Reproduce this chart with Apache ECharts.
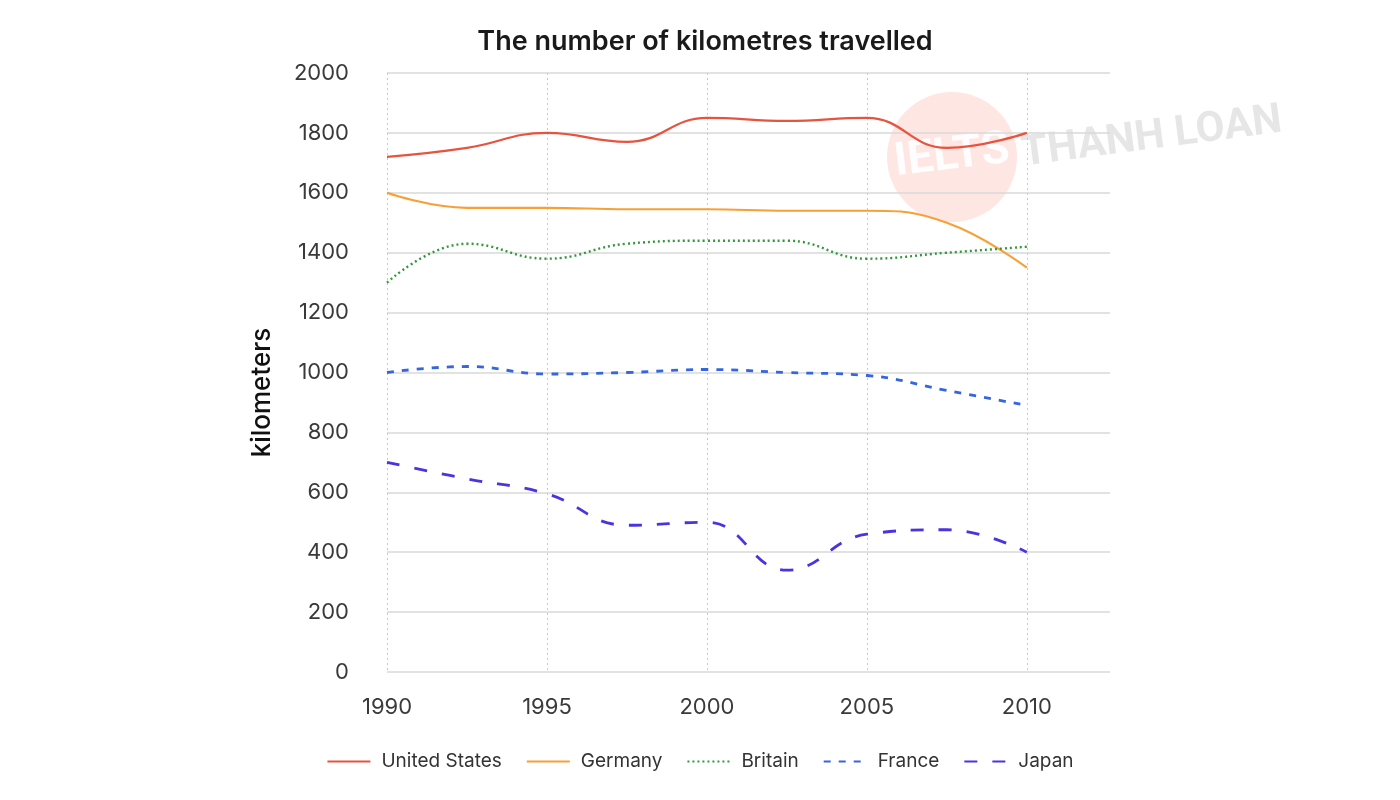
<!DOCTYPE html>
<html>
<head>
<meta charset="utf-8">
<script src="https://cdn.jsdelivr.net/npm/echarts@6/dist/echarts.min.js"></script>
<style>html,body{margin:0;padding:0;background:#fff;}#c{width:1400px;height:800px;}</style>
</head>
<body>
<div id="c"></div>
<script>
const years = [1990, 1992.5, 1995, 1997.5, 2000, 2002.5, 2005, 2007.5, 2010];
const unitedStates = [1720, 1750, 1800, 1770, 1850, 1840, 1850, 1750, 1800];
const germany = [1600, 1550, 1550, 1545, 1545, 1540, 1540, 1500, 1350];
const britain = [1300, 1430, 1380, 1430, 1440, 1440, 1380, 1400, 1420];
const france = [1000, 1020, 995, 1000, 1010, 1000, 990, 940, 890];
const japan = [700, 645, 595, 490, 500, 340, 460, 475, 400];
const xTicks = [1990, 1995, 2000, 2005, 2010];
const seriesNames = ['United States', 'Germany', 'Britain', 'France', 'Japan'];

const chart = echarts.init(document.getElementById('c'));
const pair = arr => years.map((y, i) => [y, arr[i]]);
const mk = (name, data, color, type, width) => ({
  name, type: 'line', data: pair(data), smooth: 0.45, symbol: 'none', showSymbol: false,
  lineStyle: { color, type, width }, itemStyle: { color }
});
chart.setOption({
  animation: false,
  backgroundColor: '#fff',
  title: {
    text: 'The number of kilometres travelled', left: 700, top: 23, textAlign: 'center',
    textStyle: { fontFamily: 'Inter', fontSize: 27, fontWeight: 600, color: '#1a1a1a' }
  },
  graphic: [
    { type: 'circle', shape: { cx: 952, cy: 157, r: 65 }, style: { fill: 'rgba(250,165,155,0.28)' }, z: -1 },
    { type: 'text', x: 952, y: 157, rotation: 0.12, style: { text: 'IELTS', fill: 'rgba(255,255,255,0.9)', font: 'bold 46px Roboto', textAlign: 'center', textVerticalAlign: 'middle' }, z: -1 },
    { type: 'text', x: 1152, y: 138, rotation: 0.13, style: { text: 'THANH LOAN', fill: 'rgba(200,200,200,0.45)', font: 'bold 42px Roboto', textAlign: 'center', textVerticalAlign: 'middle' }, z: -1 }
  ],
  legend: {
    data: seriesNames, bottom: 24, left: 'center', itemWidth: 43, itemHeight: 14, itemGap: 24,
    itemStyle: { opacity: 0 },
    textStyle: { fontFamily: 'Inter', fontSize: 19, color: '#333', padding: [0, 0, 0, 6] }
  },
  grid: { left: 387, right: 290, top: 73, bottom: 128 },
  xAxis: {
    type: 'value', min: 1990, max: 2012.6, interval: 5,
    axisLine: { show: false }, axisTick: { show: false },
    axisLabel: {
      showMaxLabel: false, margin: 24, fontFamily: 'Inter', fontSize: 22, color: '#3a3a3a',
      formatter: v => (xTicks.includes(v) ? String(v) : '')
    },
    splitLine: { show: true, lineStyle: { type: [2, 3], color: ['#c8c8c8', '#c8c8c8', '#c8c8c8', '#c8c8c8', '#c8c8c8', 'rgba(0,0,0,0)'], width: 1 } }
  },
  yAxis: {
    type: 'value', min: 0, max: 2000, interval: 200,
    name: 'kilometers', nameLocation: 'middle', nameGap: 112, nameRotate: 90,
    nameTextStyle: { fontFamily: 'Inter', fontSize: 26, fontWeight: 500, color: '#111', padding: [0, 40, 0, 0] },
    axisLine: { show: false }, axisTick: { show: false },
    axisLabel: { margin: 38, fontFamily: 'Inter', fontSize: 22, color: '#3a3a3a', formatter: v => String(v) },
    splitLine: { lineStyle: { color: '#d9d9d9', width: 1.5 } }
  },
  series: [
    mk('United States', unitedStates, '#e8533f', 'solid', 2.2),
    mk('Germany', germany, '#f7a035', 'solid', 2.2),
    mk('Britain', britain, '#2f9a3a', [2, 3], 2.4),
    mk('France', france, '#3566e0', [7, 8], 2.8),
    mk('Japan', japan, '#4a34dd', [13, 15], 2.8)
  ]
});
</script>
</body>
</html>
